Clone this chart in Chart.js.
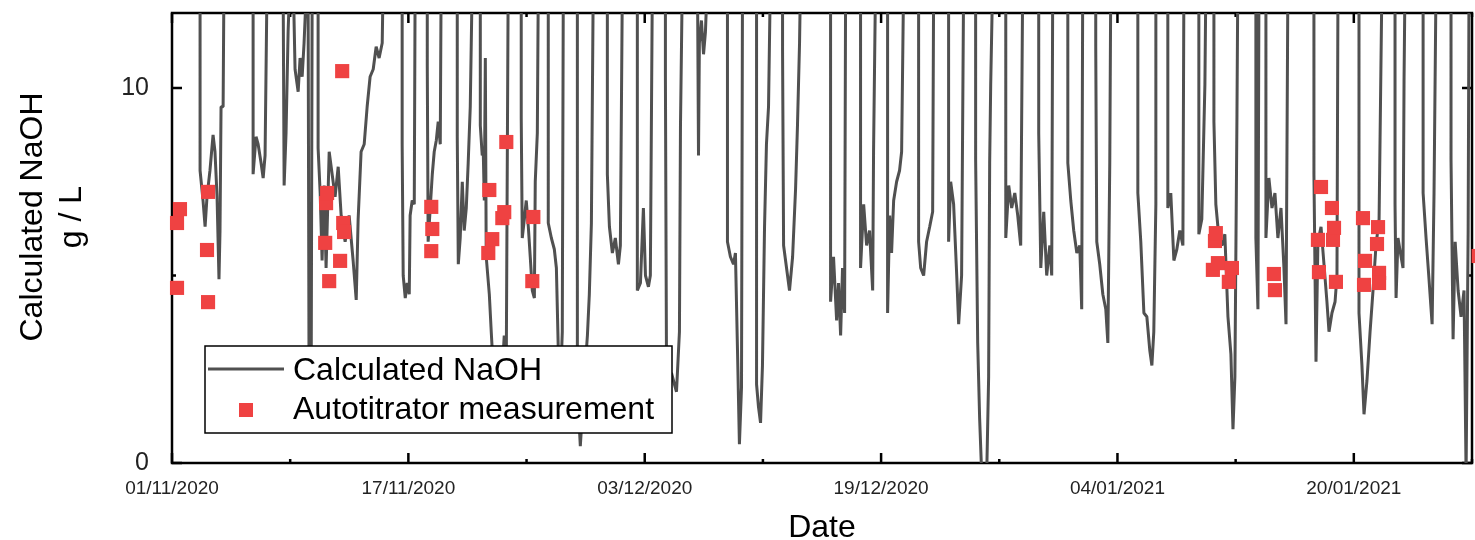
<!DOCTYPE html>
<html>
<head>
<meta charset="utf-8">
<script src="https://cdn.jsdelivr.net/npm/chart.js@4.4.1/dist/chart.umd.min.js"></script>
<style>
  html, body { margin: 0; padding: 0; background: #fff; }
  #wrap { width: 1475px; height: 540px; }
</style>
</head>
<body>
<div id="wrap"><canvas id="naohChart" width="1475" height="540"></canvas></div>
<script>
// Zeit in Tagen ab 01/11/2020, Werte in g/L (13 = Kurve läuft oben aus dem Bild)
const calcDays = [
    0, 1.90,
    1.90, 2.10, 2.24, 2.37, 2.57, 2.78, 2.91, 3.05, 3.18, 3.25, 3.32, 3.46, 3.52,
    5.49, 5.49, 5.69, 5.83, 6.03, 6.17, 6.30, 6.44,
    7.52, 7.59, 7.72, 7.86, 7.99, 8.20, 8.33, 8.54, 8.67, 8.81, 8.94, 9.08, 9.15, 9.21, 9.28, 9.42, 9.49,
    9.89, 9.89, 10.03, 10.16, 10.30, 10.43, 10.64, 10.84, 11.04, 11.25, 11.45, 11.72, 11.99, 12.26, 12.47, 12.60, 12.80, 13.01, 13.21, 13.41, 13.62, 13.82, 14.02, 14.23, 14.30,
    15.58, 15.58, 15.65, 15.79, 15.92, 16.06, 16.12, 16.26, 16.40, 16.46,
    17.28, 17.28, 17.34, 17.48, 17.62, 17.75, 17.89, 18.02, 18.16, 18.22,
    19.31, 19.31, 19.38, 19.51, 19.65, 19.78, 19.92, 20.05, 20.19, 20.33,
    20.87, 20.87, 21.00, 21.07, 21.14, 21.21, 21.27, 21.48, 21.61, 21.75, 21.88, 22.02, 22.22, 22.36, 22.49, 22.63, 22.76,
    23.64, 23.64, 23.71, 23.85, 23.98, 24.12, 24.25, 24.39, 24.53, 24.59, 24.73, 24.80,
    25.47, 25.47, 25.68, 25.88, 26.02, 26.15, 26.29, 26.42, 26.49,
    27.44, 27.44, 27.64, 27.91, 28.12, 28.25, 28.39, 28.52,
    29.47, 29.47, 29.61, 29.81, 30.01, 30.22, 30.35, 30.49,
    31.50, 31.50, 31.71, 31.91, 32.05, 32.25, 32.38, 32.52,
    33.40, 33.40, 33.47, 33.60, 33.81, 34.01, 34.15, 34.35, 34.42, 34.55,
    35.57, 35.64, 35.70, 35.84, 35.98, 36.11, 36.25,
    37.60, 37.60, 37.80, 38.01, 38.14, 38.28, 38.41, 38.55, 38.62,
    39.57, 39.57, 39.70, 39.84, 39.97, 40.11, 40.24, 40.38, 40.51,
    41.33, 41.33, 41.40, 41.60, 41.80, 42.01, 42.21, 42.34, 42.48, 42.55,
    44.58, 44.58, 44.78, 44.99, 45.12, 45.26, 45.39, 45.53, 45.60,
    46.61, 46.61, 46.82, 47.02, 47.22, 47.43, 47.49, 47.63,
    48.44, 48.44, 48.58, 48.71, 48.85, 49.05, 49.25, 49.39, 49.53,
    50.54, 50.54, 50.68, 50.88, 51.08, 51.29, 51.49, 51.56,
    52.57, 52.57, 52.71, 52.91, 53.12, 53.25, 53.45, 53.59,
    54.40, 54.40, 54.54, 54.67, 54.81, 55.15, 55.28, 55.35, 55.42, 55.56,
    56.44, 56.44, 56.64, 56.84, 57.05, 57.25, 57.45, 57.59,
    58.67, 58.67, 58.81, 59.01, 59.21, 59.42, 59.55, 59.62,
    60.64, 60.64, 60.84, 61.04, 61.25, 61.45, 61.58, 61.65,
    62.53, 62.53, 62.60, 62.80, 63.01, 63.21, 63.35, 63.48, 63.55,
    65.38, 65.38, 65.58, 65.79, 65.99, 66.19, 66.33, 66.46, 66.60, 66.60,
    67.41, 67.41, 67.61, 67.82, 68.02, 68.22, 68.43, 68.50,
    69.51, 69.51, 69.71, 69.92, 69.99,
    70.53, 70.53, 70.66, 70.87, 71.07, 71.27, 71.48, 71.68, 71.82, 71.95, 72.09, 72.15,
    73.37, 73.37, 73.51, 73.58,
    74.05, 74.05, 74.25, 74.46, 74.66, 74.86, 75.07, 75.27, 75.41, 75.54,
    77.30, 77.30, 77.44, 77.57, 77.78, 77.98, 78.18, 78.32, 78.52, 78.73, 78.86, 78.93,
    80.35, 80.35, 80.55, 80.69, 80.89, 81.10, 81.30, 81.50, 81.71, 81.91,
    82.79, 82.79, 82.86, 82.99, 83.20, 83.33, 83.40, 83.47,
    84.69, 84.69, 84.89, 85.09, 85.30, 85.43, 85.57,
    86.58, 86.58, 86.72, 86.86, 87.06, 87.26, 87.46, 87.60, 87.74, 87.80,
    88.5
];
const calcNaOH = [
    13, 13,
    7.8, 7.0, 6.3, 7.1, 7.8, 8.75, 8.3, 7.1, 4.9, 6.2, 9.5, 9.5, 13,
    13, 7.7, 8.7, 8.5, 8.0, 7.6, 8.2, 13,
    13, 7.4, 8.8, 11.5, 13, 13, 10.5, 9.9, 10.8, 10.3, 11.2, 12.5, 13, 13, 1.8, 1.8, 13,
    13, 8.4, 7.2, 5.4, 7.4, 5.2, 8.3, 7.7, 7.1, 7.9, 6.6, 5.9, 6.6, 5.4, 4.35, 6.5, 8.3, 8.5, 9.5, 10.3, 10.5, 11.1, 10.8, 11.2, 13,
    13, 8.5, 5.0, 4.4, 4.8, 4.5, 6.6, 7.0, 6.9, 13,
    13, 10.6, 5.9, 6.8, 7.7, 8.3, 8.6, 9.1, 8.5, 13,
    13, 8.7, 5.3, 6.0, 7.5, 6.2, 6.8, 8.0, 9.5, 13,
    13, 9.0, 8.2, 8.3, 7.0, 10.8, 5.5, 4.5, 3.5, 2.5, 1.8, 2.0, 3.0, 2.5, 3.4, 2.8, 13,
    13, 9.2, 6.0, 6.5, 7.0, 6.3, 5.5, 4.6, 4.4, 7.5, 8.8, 13,
    13, 6.4, 6.0, 5.7, 5.2, 3.0, 2.0, 3.5, 13,
    13, 2.0, 0.45, 2.2, 3.4, 4.5, 6.4, 13,
    13, 7.7, 6.3, 5.6, 6.0, 5.3, 5.8, 13,
    13, 4.6, 4.8, 6.8, 5.0, 4.7, 5.0, 13,
    13, 10.3, 3.0, 2.0, 2.4, 2.1, 1.9, 3.5, 9.0, 13,
    13, 8.2, 11.2, 11.8, 10.9, 11.5, 13,
    13, 5.9, 5.5, 5.3, 5.6, 3.0, 0.5, 2.0, 13,
    13, 2.1, 1.5, 1.07, 2.6, 6.3, 8.5, 9.5, 13,
    13, 11.0, 5.8, 5.2, 4.6, 5.5, 7.3, 9.0, 11.2, 13,
    13, 4.3, 5.5, 3.8, 4.8, 3.4, 5.2, 4.0, 13,
    13, 5.2, 6.9, 5.8, 6.2, 4.6, 8.3, 13,
    13, 4.0, 6.6, 5.6, 7.0, 7.5, 7.8, 8.3, 13,
    13, 5.9, 5.2, 5.0, 5.9, 6.3, 6.7, 13,
    13, 5.9, 7.5, 6.9, 5.0, 3.7, 5.0, 13,
    13, 8.1, 3.2, 1.2, -0.3, -0.3, 2.3, 8.0, 10.1, 13,
    13, 6.0, 7.4, 6.8, 7.2, 6.6, 5.8, 13,
    13, 8.8, 5.2, 6.7, 5.0, 5.8, 5.0, 13,
    13, 8.0, 7.0, 6.2, 5.6, 5.8, 4.1, 13,
    13, 11.1, 5.9, 5.3, 4.5, 4.1, 3.2, 8.0, 13,
    13, 7.2, 5.9, 4.0, 3.9, 3.0, 2.6, 3.5, 6.9, 13,
    13, 6.8, 7.2, 5.4, 5.7, 6.2, 5.8, 13,
    13, 6.1, 6.5, 10.1, 13,
    13, 9.1, 6.9, 6.0, 5.8, 6.1, 3.9, 2.9, 0.9, 2.3, 9.3, 13,
    13, 6.0, 4.1, 13,
    13, 6.0, 7.6, 6.8, 7.2, 6.0, 6.8, 5.2, 3.7, 13,
    13, 7.7, 2.7, 5.9, 6.3, 5.3, 4.3, 3.5, 4.0, 4.3, 5.0, 13,
    13, 4.0, 2.6, 1.3, 2.2, 3.5, 4.6, 5.8, 6.5, 13,
    13, 6.9, 4.4, 6.0, 5.5, 5.2, 10.2, 13,
    13, 7.2, 6.0, 4.9, 3.7, 7.2, 13,
    13, 8.1, 3.3, 5.9, 4.6, 3.9, 4.6, -0.3, 6.2, 13,
    13
];

// Autotitrator Messpunkte
const measDays = [
    0.34, 0.34, 0.54, 2.37, 2.44, 2.44,
    10.37, 10.43, 10.50, 10.64, 11.38, 11.52, 11.59, 11.65,
    17.55, 17.55, 17.62,
    21.41, 21.48, 21.68, 22.36, 22.49, 22.63, 24.39, 24.46,
    70.46, 70.60, 70.66, 70.80, 71.54, 71.75, 74.59, 74.66,
    77.57, 77.64, 77.78, 78.52, 78.59, 78.66, 78.79,
    80.62, 80.69, 80.76, 81.57, 81.64, 81.71, 81.71,
    88.45
];
const measNaOH = [
    6.40, 4.67, 6.77, 5.68, 7.23, 4.29,
    5.87, 6.93, 7.20, 4.85, 5.39, 10.45, 6.40, 6.16,
    6.83, 5.65, 6.24,
    5.60, 7.28, 5.97, 6.53, 6.69, 8.56, 4.85, 6.56,
    5.15, 5.92, 6.13, 5.33, 4.83, 5.20, 5.04, 4.61,
    5.95, 5.09, 7.36, 6.80, 5.95, 6.27, 4.83,
    6.53, 4.75, 5.39, 5.84, 6.29, 5.07, 4.80,
    5.52
];

const xTickStep = 8;      // kleine Striche alle 8 Tage
const xLabelStep = 16;    // Beschriftung alle 16 Tage
const yTicks = [0, 5, 10];
const yLabels = ['0', '', '10'];

const startDate = new Date(2020, 10, 1);
const FONT = "'Liberation Sans', Arial, sans-serif";

function dayLabel(d) {
    const dt = new Date(startDate);
    dt.setDate(dt.getDate() + d);
    const dd = String(dt.getDate()).padStart(2, '0');
    const mm = String(dt.getMonth() + 1).padStart(2, '0');
    return `${dd}/${mm}/${dt.getFullYear()}`;
}

// keine automatischen Randabstände, Plotfläche fest
function fixBox(s, key, size) {
    s[key] = size;
    s.paddingTop = 0;
    s.paddingBottom = 0;
    s.paddingLeft = 0;
    s.paddingRight = 0;
}

// Rahmen + nach innen zeigende Striche auf allen vier Seiten
const frameTicks = {
    id: 'frameTicks',
    beforeDatasetsDraw(chart) {
        const { ctx, chartArea: a, scales } = chart;
        ctx.save();
        ctx.strokeStyle = '#000';
        ctx.lineWidth = 2.5;
        ctx.strokeRect(a.left, a.top, a.right - a.left, a.bottom - a.top);
        ctx.beginPath();
        scales.x.ticks.forEach(t => {
            const px = scales.x.getPixelForValue(t.value);
            const len = t.label !== '' ? 10 : 4;
            ctx.moveTo(px, a.bottom); ctx.lineTo(px, a.bottom - len);
            ctx.moveTo(px, a.top); ctx.lineTo(px, a.top + len);
        });
        scales.y.ticks.forEach(t => {
            const py = scales.y.getPixelForValue(t.value);
            const len = t.label !== '' ? 10 : 4;
            ctx.moveTo(a.left, py); ctx.lineTo(a.left + len, py);
            ctx.moveTo(a.right, py); ctx.lineTo(a.right - len, py);
        });
        ctx.stroke();
        ctx.restore();
    },
    afterDatasetsDraw(chart) {
        const { ctx, chartArea: a } = chart;
        const lineDs = chart.data.datasets[1];
        const dotDs = chart.data.datasets[0];
        ctx.save();

        // Legende
        const bx = a.left + 33, by = a.bottom - 117;
        ctx.fillStyle = '#fff';
        ctx.fillRect(bx, by, 467, 87);
        ctx.strokeStyle = '#000';
        ctx.lineWidth = 1.5;
        ctx.strokeRect(bx, by, 467, 87);

        ctx.strokeStyle = lineDs.borderColor;
        ctx.lineWidth = 3;
        ctx.beginPath();
        ctx.moveTo(bx + 3, by + 23);
        ctx.lineTo(bx + 79, by + 23);
        ctx.stroke();

        ctx.fillStyle = dotDs.backgroundColor;
        ctx.fillRect(bx + 34, by + 57, 14, 14);

        ctx.fillStyle = '#000';
        ctx.font = `32px ${FONT}`;
        ctx.textAlign = 'left';
        ctx.textBaseline = 'alphabetic';
        ctx.fillText(lineDs.label, bx + 88, by + 34);
        ctx.fillText(dotDs.label, bx + 88, by + 73);

        // Achsentitel
        ctx.textAlign = 'center';
        ctx.fillText('Date', (a.left + a.right) / 2, 537);

        ctx.translate(42, 217);
        ctx.rotate(-Math.PI / 2);
        ctx.fillText('Calculated NaOH', 0, 0);
        ctx.fillText('g / L', 0, 39);
        ctx.restore();
    }
};

document.addEventListener('DOMContentLoaded', function() {
    const ctx = document.getElementById('naohChart').getContext('2d');

    new Chart(ctx, {
        type: 'scatter',
        data: {
            datasets: [
                {
                    type: 'scatter',
                    label: 'Autotitrator measurement',
                    data: measDays.map((d, i) => ({ x: d, y: measNaOH[i] })),
                    backgroundColor: '#ef4242',
                    borderColor: '#ef4242',
                    pointStyle: 'rect',
                    pointRadius: 10,
                    pointHoverRadius: 10,
                    pointBorderWidth: 0,
                    clip: false,
                    order: 0
                },
                {
                    type: 'line',
                    label: 'Calculated NaOH',
                    data: calcDays.map((d, i) => ({ x: d, y: calcNaOH[i] })),
                    borderColor: '#505050',
                    borderWidth: 3,
                    borderJoinStyle: 'bevel',
                    pointRadius: 0,
                    tension: 0,
                    fill: false,
                    order: 1
                }
            ]
        },
        options: {
            responsive: false,
            devicePixelRatio: 1,
            animation: false,
            events: [],
            layout: {
                autoPadding: false,
                padding: { top: 13, right: 3, left: 0, bottom: 0 }
            },
            plugins: {
                legend: { display: false },
                tooltip: { enabled: false }
            },
            scales: {
                x: {
                    type: 'linear',
                    min: 0,
                    max: 88,
                    grid: { display: false },
                    border: { display: false },
                    afterFit: s => fixBox(s, 'height', 77),
                    ticks: {
                        stepSize: xTickStep,
                        autoSkip: false,
                        maxRotation: 0,
                        minRotation: 0,
                        padding: 6,
                        color: '#222',
                        font: { family: FONT, size: 19 },
                        callback: v => (v % xLabelStep === 0 && v < 88) ? dayLabel(v) : ''
                    }
                },
                y: {
                    type: 'linear',
                    min: 0,
                    max: 12,
                    grid: { display: false },
                    border: { display: false },
                    afterFit: s => fixBox(s, 'width', 172),
                    afterBuildTicks: s => { s.ticks = yTicks.map(v => ({ value: v })); },
                    ticks: {
                        padding: 15,
                        color: '#222',
                        font: { family: FONT, size: 25 },
                        callback: v => yLabels[yTicks.indexOf(v)]
                    }
                }
            }
        },
        plugins: [frameTicks]
    });
});
</script>
</body>
</html>
